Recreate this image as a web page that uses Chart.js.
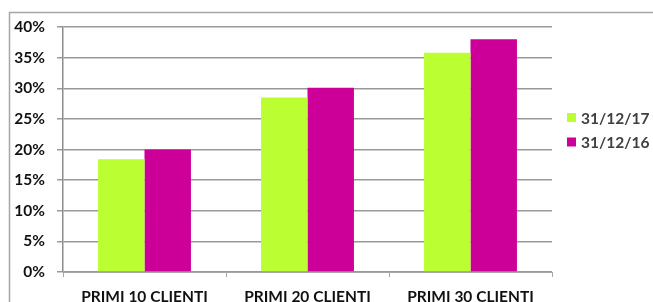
<!DOCTYPE html>
<html><head><meta charset="utf-8">
<script src="https://cdn.jsdelivr.net/npm/chart.js@4/dist/chart.umd.min.js"></script>
<style>html,body{margin:0;padding:0;background:#fff}</style>
</head><body>
<canvas id="c" width="653" height="302"></canvas>
<script>
const categories = ['PRIMI 10 CLIENTI', 'PRIMI 20 CLIENTI', 'PRIMI 30 CLIENTI'];
const seriesLabels = ['31/12/17', '31/12/16'];
const values2017 = [0.184, 0.285, 0.358];
const values2016 = [0.200, 0.301, 0.380];
const seriesColors = ['#BBFF33', '#CC0099'];

const FONT = 'Lato, "Liberation Sans", sans-serif';

const framePlugin = {
  id: 'frame',
  beforeDraw(chart) {
    const ctx = chart.ctx;
    ctx.save();
    ctx.fillStyle = '#fff';
    ctx.fillRect(0, 0, chart.width, chart.height);
    ctx.strokeStyle = '#a6a6a6';
    ctx.lineWidth = 1.5;
    ctx.strokeRect(9.5, 12.5, 800, 400);
    ctx.restore();
  }
};

const legendPlugin = {
  id: 'customLegend',
  afterDraw(chart) {
    const ctx = chart.ctx;
    ctx.save();
    ctx.font = 'bold 15.5px ' + FONT;
    ctx.textBaseline = 'middle';
    chart.data.datasets.forEach((ds, i) => {
      const y = 117.5 + i * 24.5;
      ctx.fillStyle = ds.backgroundColor;
      ctx.fillRect(567, y - 4.5, 9, 9);
      ctx.fillStyle = '#404040';
      ctx.fillText(ds.label, 581, y + 1);
    });
    ctx.restore();
  }
};

new Chart(document.getElementById('c'), {
  type: 'bar',
  data: {
    labels: categories,
    datasets: [
      { label: seriesLabels[0], data: values2017, backgroundColor: seriesColors[0] },
      { label: seriesLabels[1], data: values2016, backgroundColor: seriesColors[1] }
    ]
  },
  options: {
    responsive: false,
    animation: false,
    devicePixelRatio: 1,
    layout: { padding: { top: 27, right: 101, left: 0, bottom: 0 } },
    datasets: { bar: { categoryPercentage: 0.57, barPercentage: 1.0 } },
    plugins: { legend: { display: false }, tooltip: { enabled: false } },
    scales: {
      x: {
        offset: true,
        grid: { offset: true, drawOnChartArea: false, drawTicks: true, tickLength: 5, color: '#a6a6a6' },
        border: { color: '#a6a6a6', width: 1 },
        ticks: { color: '#111', font: { family: FONT, weight: 'bold', size: 15.5 }, padding: 11, maxRotation: 0 },
        afterFit(s) { s.height = 30; }
      },
      y: {
        min: 0, max: 0.4,
        grid: { color: '#999', lineWidth: 1.5, tickLength: 6 },
        border: { color: '#8c8c8c', width: 1.5 },
        ticks: {
          stepSize: 0.05, color: '#111', padding: 12,
          font: { family: FONT, weight: 'bold', size: 15.5 },
          callback: v => Math.round(v * 100) + '%'
        },
        afterFit(s) { s.width = 63; }
      }
    }
  },
  plugins: [framePlugin, legendPlugin]
});
</script>
</body></html>
